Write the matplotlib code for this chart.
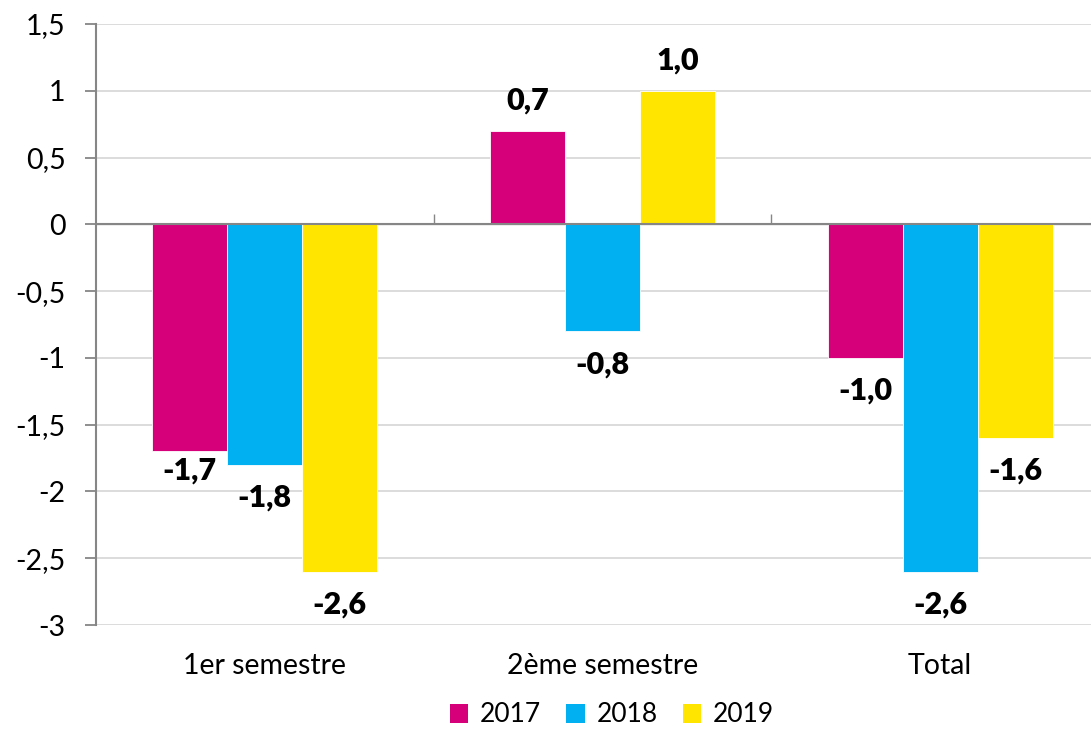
import matplotlib
matplotlib.use("Agg")
import matplotlib.pyplot as plt
import numpy as np
from matplotlib.patches import Patch

categories = ["1er semestre", "2ème semestre", "Total"]
years = ["2017", "2018", "2019"]
v2017 = [-1.7, 0.7, -1.0]
v2018 = [-1.8, -0.8, -2.6]
v2019 = [-2.6, 1.0, -1.6]
yticks = [1.5, 1, 0.5, 0, -0.5, -1, -1.5, -2, -2.5, -3]
ytick_labels = ["1,5", "1", "0,5", "0", "-0,5", "-1", "-1,5", "-2", "-2,5", "-3"]

colors = ["#D6007A", "#00B0F0", "#FFE500"]
plt.rcParams['font.family'] = ['Lato', 'DejaVu Sans']

fig = plt.figure(figsize=(10.91, 7.29), dpi=100)
W, H = 1091, 729
x0, x1 = 96, 1109
ytop, ybot = 24, 625
ax = fig.add_axes([x0 / W, 1 - ybot / H, (W - x0) / W, (ybot - ytop) / H])
catw = (x1 - x0)
xmax = -0.5 + 3 * (W - x0) / catw
ax.set_xlim(-0.5, xmax)
ax.set_ylim(-3, 1.5)

x = np.arange(len(categories))
bw = 75 / (catw / 3)
series = [v2017, v2018, v2019]
fs = 20.5
for i, (vals, col) in enumerate(zip(series, colors)):
    pos = x + (i - 1) * bw
    bars = ax.bar(pos, vals, width=bw, color=col, edgecolor="white", linewidth=0.6, zorder=3)
    for j, (b, v) in enumerate(zip(bars, vals)):
        off = 30 if v > 0 else -33
        if i == 0 and j == 0:
            off = -19
        ax.annotate(f"{v:.1f}".replace(".", ","), (b.get_x() + b.get_width() / 2, v),
                    xytext=(0, off * 0.72), textcoords="offset points",
                    ha="center", va="center", fontsize=22, fontweight="heavy", color="black")

ax.set_yticks(yticks)
ax.set_yticklabels(ytick_labels, fontsize=fs)
ax.yaxis.grid(True, color="#D9D9D9", linewidth=1.3, zorder=0)
ax.tick_params(axis="y", length=8, color="#868686", width=1.3, pad=14)
for s in ["top", "right", "bottom"]:
    ax.spines[s].set_visible(False)
ax.spines["left"].set_color("#868686")
ax.spines["left"].set_linewidth(1.5)
ax.axhline(0, color="#868686", linewidth=1.5, zorder=4)

ax.set_xticks(x)
ax.set_xticklabels(categories, fontsize=fs)
ax.tick_params(axis="x", length=0, pad=20)

sec = ax.secondary_xaxis(3 / 4.5)
sec.set_xticks([0.5, 1.5])
sec.set_xticklabels(["", ""])
sec.tick_params(axis="x", direction="out", length=7, color="#868686", width=1.0)
sec.spines["bottom"].set_visible(False)

handles = [Patch(facecolor=c, edgecolor="none") for c in colors]
fig.legend(handles, years, loc="center", bbox_to_anchor=(612 / W, 1 - 715 / H), ncol=3,
           frameon=False, fontsize=19, handlelength=0.7, handleheight=0.7,
           handletextpad=0.45, columnspacing=0.95)

fig.savefig("out.png", dpi=100)
